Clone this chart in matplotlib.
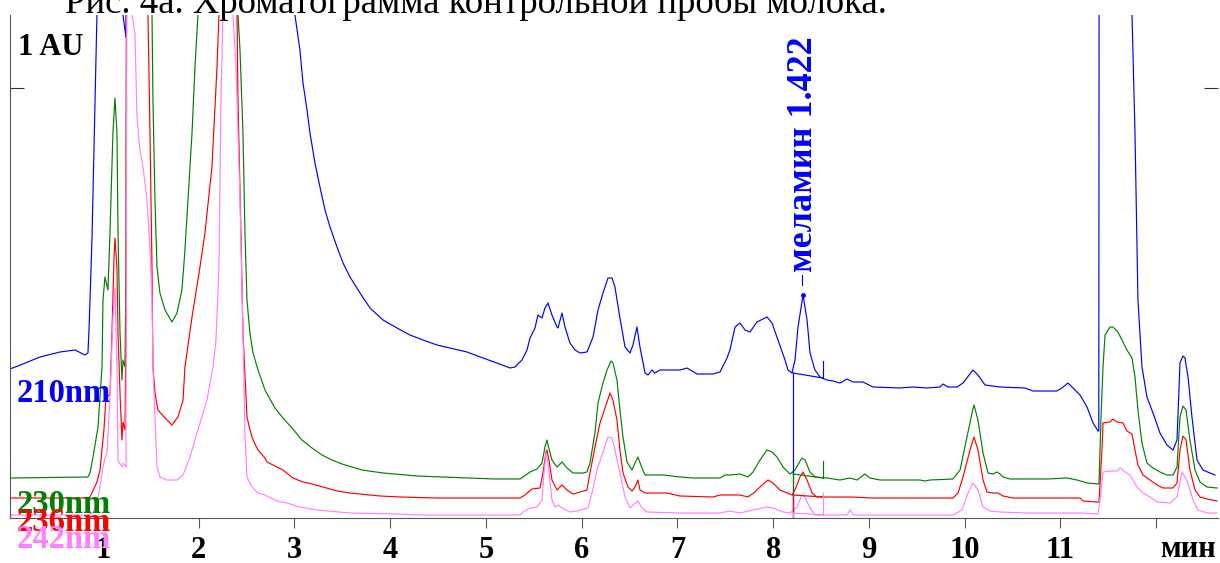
import matplotlib
matplotlib.use("Agg")
import matplotlib.pyplot as plt
import numpy as np

# ---------------- data (time in min, signal in arbitrary detector units) ----------------
HI = 800  # off-scale (detector trace runs above the plot window)

t_210 = [0.029, 0.164, 0.342, 0.551, 0.708, 0.812, 0.843, 0.854, 0.885, 0.906, 0.927, 0.937, 0.960,
         1.198, 1.209, 1.240, 1.255, 2.980, 3.005, 3.057, 3.089, 3.131, 3.162, 3.214, 3.266, 3.319,
         3.371, 3.444, 3.507, 3.580, 3.684, 3.789, 3.924, 4.071, 4.206, 4.342, 4.488, 4.624, 4.802,
         4.969, 5.115, 5.251, 5.303, 5.376, 5.428, 5.460, 5.512, 5.543, 5.585, 5.616, 5.648, 5.689,
         5.742, 5.752, 5.794, 5.825, 5.877, 5.930, 5.982, 6.055, 6.118, 6.170, 6.222, 6.274, 6.316,
         6.347, 6.399, 6.452, 6.504, 6.535, 6.577, 6.608, 6.661, 6.692, 6.734, 6.765, 6.817, 7.026,
         7.099, 7.204, 7.371, 7.444, 7.517, 7.548, 7.601, 7.653, 7.705, 7.757, 7.830, 7.935, 7.987,
         8.050, 8.123, 8.154, 8.196, 8.227, 8.259, 8.311, 8.353, 8.384, 8.436, 8.488, 8.561, 8.624,
         8.697, 8.770, 8.833, 8.937, 9.042, 9.324, 9.460, 9.606, 9.742, 9.773, 9.825, 9.919, 9.982,
         10.086, 10.138, 10.212, 10.368, 10.629, 10.713, 10.963, 11.016, 11.078, 11.131, 11.204,
         11.277, 11.340, 11.392, 11.400, 11.405, 11.740, 11.747, 11.778, 11.809, 11.851, 11.903,
         11.966, 12.039, 12.112, 12.175, 12.217, 12.248, 12.279, 12.300, 12.332, 12.373, 12.426,
         12.488, 12.561, 12.614]
y_210 = [149, 154, 161, 166, 168, 163, 165, 188, 278, 368, 458, 503, HI,
         HI, 503, 481, HI, HI, 503, 468, 435, 408, 385, 355, 331, 308,
         291, 271, 255, 241, 225, 210, 198, 190, 183, 178, 173, 170, 166,
         160, 155, 150, 151, 158, 168, 180, 190, 203, 200, 210, 215, 203,
         191, 190, 205, 191, 175, 168, 165, 166, 181, 208, 225, 240, 240,
         231, 200, 171, 165, 173, 191, 171, 145, 143, 148, 145, 148, 148,
         150, 144, 144, 146, 160, 168, 191, 195, 188, 186, 196, 201, 195,
         178, 158, 148, 145, 158, 191, 223, 198, 165, 148, 141, 138, 137,
         135, 139, 136, 136, 131, 130, 131, 130, 131, 134, 131, 131, 135,
         148, 143, 133, 131, 130, 127, 127, 130, 135, 130, 123,
         111, 95, 87, 87, HI, HI, 503, 385, 218, 151, 121,
         105, 85, 73, 68, 78, 155, 162, 160, 141, 101, 58,
         48, 45, 43]

t_230 = [0.029, 0.843, 0.864, 0.896, 0.948, 0.990, 1.000, 1.021, 1.052, 1.073, 1.104, 1.125, 1.146,
         1.157, 1.178, 1.198, 1.209, 1.230, 1.240, 1.251, 1.500, 1.512, 1.522, 1.543, 1.564, 1.595,
         1.648, 1.720, 1.773, 1.825, 1.856, 1.888, 1.930, 1.961, 1.992, 2.010, 2.395, 2.410, 2.431,
         2.462, 2.483, 2.504, 2.535, 2.567, 2.619, 2.692, 2.796, 2.880, 2.974, 3.078, 3.183, 3.287,
         3.392, 3.496, 3.601, 3.705, 3.924, 4.279, 4.551, 4.802, 5.094, 5.355, 5.386, 5.460, 5.533,
         5.585, 5.616, 5.637, 5.648, 5.689, 5.742, 5.794, 5.846, 5.909, 6.013, 6.055, 6.086, 6.138,
         6.170, 6.222, 6.264, 6.305, 6.326, 6.368, 6.399, 6.431, 6.473, 6.525, 6.556, 6.587, 6.629,
         6.661, 6.849, 7.026, 7.162, 7.444, 7.496, 7.548, 7.653, 7.736, 7.789, 7.862, 7.935, 7.987,
         8.039, 8.102, 8.175, 8.227, 8.300, 8.332, 8.384, 8.436, 8.561, 8.697, 8.802, 8.875, 8.958,
         9.010, 9.115, 9.533, 9.585, 9.637, 9.877, 9.951, 10.024, 10.076, 10.097, 10.138, 10.191,
         10.243, 10.295, 10.337, 10.368, 10.400, 10.473, 10.859, 11.068, 11.172, 11.277, 11.392,
         11.402, 11.423, 11.444, 11.465, 11.517, 11.548, 11.600, 11.642, 11.694, 11.747, 11.778,
         11.809, 11.851, 11.903, 11.966, 12.039, 12.112, 12.175, 12.217, 12.248, 12.279, 12.311,
         12.352, 12.405, 12.457, 12.530, 12.635]
y_230 = [40, 41, 45, 61, 91, 151, 218, 241, 228, 285, 385, 420, 385,
         285, 185, 138, 158, 151, 251, HI, HI, 503, 418, 318, 251, 225,
         208, 196, 205, 228, 268, 318, 385, 451, 503, HI, HI, 503, 468,
         385, 285, 218, 185, 165, 148, 128, 110, 100, 90, 78, 70, 63,
         58, 54, 51, 48, 45, 42, 41, 40, 39, 39, 41, 46, 49,
         55, 71, 78, 73, 58, 51, 56, 50, 45, 45, 46, 55, 85,
         115, 135, 148, 157, 155, 138, 108, 81, 56, 48, 55, 61, 50,
         43, 43, 41, 40, 40, 43, 43, 44, 41, 46, 58, 68, 66,
         61, 51, 44, 48, 60, 58, 46, 41, 40, 38, 40, 38, 44,
         40, 38, 38, 37, 38, 39, 48, 81, 105, 113, 98, 65,
         45, 44, 46, 44, 41, 39, 39, 40, 38, 35, 34,
         34, 101, 151, 183, 191, 191, 186, 178, 168, 160, 141,
         108, 75, 55, 50, 46, 43, 43, 51, 101, 112, 108,
         78, 48, 36, 31, 30]

t_236 = [0.029, 0.843, 0.864, 0.937, 0.969, 1.010, 1.031, 1.073, 1.094, 1.115, 1.125, 1.146, 1.157,
         1.178, 1.198, 1.209, 1.230, 1.240, 1.251, 1.460, 1.470, 1.491, 1.512, 1.522, 1.543, 1.574,
         1.648, 1.720, 1.783, 1.836, 1.856, 1.930, 2.013, 2.065, 2.138, 2.191, 2.211, 2.225, 2.385,
         2.400, 2.410, 2.441, 2.462, 2.504, 2.535, 2.567, 2.619, 2.692, 2.713, 2.817, 2.880, 2.984,
         3.089, 3.183, 3.298, 3.444, 3.580, 3.893, 4.102, 4.488, 4.969, 5.251, 5.355, 5.407, 5.480,
         5.564, 5.595, 5.627, 5.637, 5.658, 5.689, 5.742, 5.794, 5.846, 5.909, 6.055, 6.086, 6.138,
         6.191, 6.243, 6.295, 6.326, 6.368, 6.399, 6.431, 6.483, 6.525, 6.556, 6.587, 6.608, 6.661,
         6.890, 7.026, 7.371, 7.444, 7.548, 7.653, 7.736, 7.809, 7.883, 7.945, 7.997, 8.070, 8.144,
         8.196, 8.227, 8.279, 8.311, 8.353, 8.405, 8.457, 8.624, 8.802, 9.042, 9.877, 9.930, 9.982,
         10.055, 10.097, 10.138, 10.191, 10.232, 10.295, 10.347, 10.400, 10.504, 11.204, 11.235,
         11.381, 11.402, 11.434, 11.444, 11.517, 11.548, 11.590, 11.653, 11.694, 11.747, 11.778,
         11.809, 11.862, 11.935, 12.008, 12.070, 12.175, 12.217, 12.248, 12.279, 12.311, 12.352,
         12.405, 12.457, 12.530, 12.635]
y_236 = [20, 20, 21, 36, 48, 88, 121, 123, 185, 260, 280, 251, 185,
         125, 78, 96, 88, 185, HI, HI, 503, 385, 251, 151, 125, 108,
         100, 93, 101, 118, 151, 201, 251, 285, 351, 451, 503, HI, HI,
         503, 418, 285, 185, 101, 88, 78, 68, 60, 56, 51, 48, 40,
         36, 34, 31, 27, 25, 22, 21, 20, 20, 20, 20, 23, 29,
         30, 45, 66, 68, 58, 38, 28, 33, 28, 24, 28, 45, 71,
         95, 110, 125, 118, 98, 68, 45, 31, 27, 31, 38, 28, 25,
         25, 22, 21, 23, 23, 23, 21, 26, 33, 38, 35, 28, 25,
         23, 28, 41, 46, 38, 25, 21, 21, 21, 20, 20, 25, 41,
         68, 81, 68, 38, 26, 25, 25, 22, 20, 20, 17,
         16, 16, 70, 95, 96, 99, 96, 95, 87, 84, 68,
         53, 43, 38, 33, 30, 30, 35, 68, 82, 78, 48,
         28, 21, 19, 17]

t_242 = [0.029, 0.843, 0.896, 0.937, 0.969, 1.000, 1.021, 1.042, 1.073, 1.104, 1.125, 1.146, 1.157,
         1.198, 1.209, 1.240, 1.255, 1.290, 1.303, 1.334, 1.355, 1.386, 1.418, 1.460, 1.491, 1.512,
         1.522, 1.543, 1.564, 1.595, 1.668, 1.773, 1.836, 1.909, 1.982, 2.086, 2.149, 2.180, 2.211,
         2.232, 2.253, 2.265, 2.345, 2.358, 2.389, 2.431, 2.462, 2.483, 2.504, 2.556, 2.619, 2.692,
         2.817, 2.922, 3.057, 3.235, 3.580, 4.071, 4.279, 5.251, 5.355, 5.386, 5.460, 5.533, 5.585,
         5.606, 5.627, 5.648, 5.689, 5.721, 5.752, 5.794, 5.877, 5.950, 6.065, 6.107, 6.159, 6.222,
         6.274, 6.316, 6.347, 6.399, 6.452, 6.504, 6.535, 6.587, 6.629, 6.681, 7.026, 7.444, 7.548,
         7.653, 7.789, 7.935, 7.997, 8.102, 8.175, 8.248, 8.300, 8.332, 8.384, 8.436, 8.561, 8.770,
         8.802, 8.833, 9.877, 9.971, 10.034, 10.086, 10.138, 10.191, 10.264, 10.368, 10.650, 11.204,
         11.392, 11.413, 11.444, 11.517, 11.590, 11.621, 11.674, 11.726, 11.799, 11.862, 11.935,
         12.008, 12.144, 12.217, 12.269, 12.321, 12.384, 12.436, 12.530, 12.635]
y_242 = [3, 3, 5, 15, 31, 51, 60, 65, 120, 200, 230, 150, 58,
         51, 55, 51, HI, HI, 503, 485, 401, 368, 351, 318, 268, 218,
         151, 100, 51, 41, 38, 38, 43, 61, 85, 118, 151, 178, 250,
         418, 503, HI, HI, 503, 451, 318, 185, 85, 41, 31, 25, 23,
         17, 15, 11, 8, 5, 4, 3, 3, 3, 6, 10, 11, 18,
         45, 65, 55, 18, 11, 13, 10, 6, 7, 10, 25, 48, 66,
         81, 80, 68, 45, 21, 10, 13, 17, 10, 6, 5, 5, 7,
         5, 8, 11, 10, 6, 5, 11, 23, 21, 10, 3, 3, 3,
         8, 3, 3, 8, 25, 35, 28, 11, 7, 6, 5, 5,
         4, 18, 46, 47, 47, 50, 46, 43, 31, 25, 21,
         16, 15, 21, 46, 38, 18, 8, 5, 5]

series_labels = ["210nm", "230nm", "236nm", "242nm"]
series_colors = ["#0000ff", "#008000", "#ff0000", "#ff80ff"]

x_ticks = [1, 2, 3, 4, 5, 6, 7, 8, 9, 10, 11, 12]
x_ticklabels = ["1", "2", "3", "4", "5", "6", "7", "8", "9", "10", "11", ""]
x_unit = "мин"
scale_tick = 430
scale_label = "1 AU"

# melamine peak annotation (210 nm) and integration marks
mel_time, mel_height = 8.311, 223
mel_label = "меламин 1.422"
int_start, int_end = 8.206, 8.520
int_base_start = [145, 44, 23, 5]     # baseline at peak start for each trace
int_base_end = [140, 40, 21, 3]       # baseline at peak end
int_end_mark = [157, 57, 21, 25]      # height of end marker line

title = "Рис. 4а. Хроматограмма контрольной пробы молока."

# ---------------- figure ----------------
W, H = 1220, 563
fig = plt.figure(figsize=(W / 100, H / 100), dpi=100)
ax = fig.add_axes([10 / W, (H - 517.5) / H, (1218 - 10) / W, (517.5 - 15) / H])
SERIF = ["Liberation Serif", "DejaVu Serif"]

traces = [(t_210, y_210), (t_230, y_230), (t_236, y_236), (t_242, y_242)]
for (tt, yy), c in zip(traces, series_colors):
    ax.plot(tt, yy, color=c, lw=0.85, solid_joinstyle="round")

# integration marks
for i, c in enumerate(series_colors):
    ax.plot([int_start, int_end], [int_base_start[i], int_base_end[i]], color=c, lw=0.85)
    ax.plot([int_end, int_end], [int_base_end[i], int_end_mark[i]], color=c, lw=0.85)
    ax.plot([int_start, int_start], [0, int_base_start[i]], color=c, lw=0.85)
ax.plot([mel_time], [mel_height], "o", color="#0000ff", ms=2.5)
ax.plot([mel_time - 0.01, mel_time - 0.01], [mel_height + 10, mel_height + 20], color="#0000ff", lw=0.85)
ax.text(mel_time + 0.01, mel_height + 23, mel_label, rotation=90, ha="center", va="bottom",
        color="#0000ff", fontsize=26, fontweight="bold", family=SERIF)

ax.set_xlim(0.029, 12.645)
ax.set_ylim(0.5, 503)
for s in ["top", "right"]:
    ax.spines[s].set_visible(False)
ax.spines["left"].set_color("#555555")
ax.spines["bottom"].set_color("#555555")
ax.set_xticks(x_ticks)
ax.set_xticklabels(x_ticklabels, fontsize=22, fontweight="bold", family=SERIF)
ax.tick_params(axis="x", direction="out", length=7.2, color="#555555", pad=6)
ax.set_yticks([scale_tick])
ax.set_yticklabels([""])
ax.tick_params(axis="y", direction="in", length=10, color="#333333", left=True, right=True)

fig.text(1188 / W, 1 - 557 / H, x_unit, ha="center", va="baseline", fontsize=22,
         fontweight="bold", family=SERIF)
fig.text(18 / W, 1 - 55 / H, scale_label, ha="left", va="baseline", fontsize=22,
         fontweight="bold", family=SERIF)
fig.text(65 / W, 1 - 13 / H, title, ha="left", va="baseline", fontsize=26.5, family=SERIF)

label_y = [402, 513, 531, 548]
for lab, c, ly in zip(series_labels, series_colors, label_y):
    fig.text(17 / W, 1 - ly / H, lab, ha="left", va="baseline", fontsize=23.5,
             fontweight="bold", family=SERIF, color=c)

fig.savefig("out.png", dpi=100)
